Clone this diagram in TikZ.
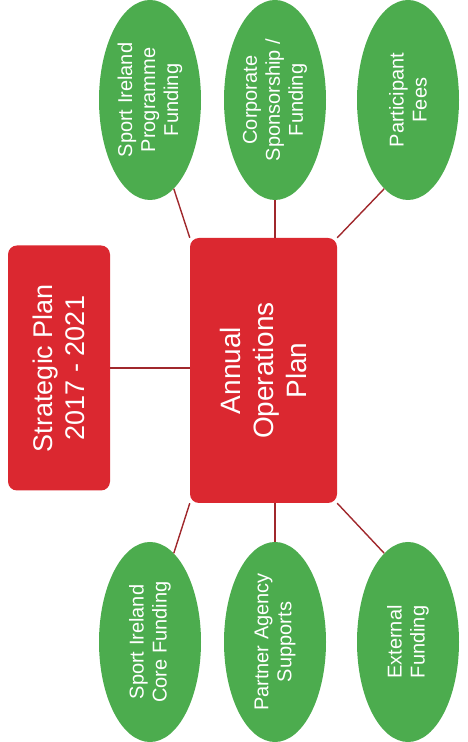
\documentclass[tikz,border=0pt]{standalone}
\usepackage{fontspec}
\setmainfont{Liberation Sans}
\usetikzlibrary{shapes.geometric}

\definecolor{boxred}{RGB}{219,40,48}
\definecolor{fundgreen}{RGB}{76,172,78}
\definecolor{linkred}{RGB}{160,40,44}

\tikzset{
  planbox/.style={rectangle, rounded corners=9pt, fill=boxred, text=white,
    align=center, rotate=90, inner sep=0pt},
  fundoval/.style={ellipse, fill=fundgreen, text=white, align=center,
    rotate=90, inner sep=0pt, minimum width=200pt, minimum height=102pt,
    font=\fontsize{20}{23}\selectfont},
  link/.style={linkred, line width=1.4pt}
}

\begin{document}
\begin{tikzpicture}[x=1pt,y=1pt]
    \useasboundingbox (0,0) rectangle (467,742);

    % plans
    \node[planbox, minimum width=245pt, minimum height=102pt,
          font=\fontsize{27}{32}\selectfont] (strat) at (59,374) {Strategic Plan\\2017 - 2021};
    \node[planbox, minimum width=265pt, minimum height=147pt,
          font=\fontsize{28}{33}\selectfont] (annual) at (263.5,371.5) {Annual\\Operations\\Plan};

    % funding sources, top row
    \node[fundoval] (progfund) at (150,642) {Sport Ireland\\Programme\\Funding};
    \node[fundoval] (corpfund) at (275,642) {Corporate\\Sponsorship /\\Funding};
    \node[fundoval] (fees) at (408,642) {Participant\\Fees};

    % funding sources, bottom row
    \node[fundoval] (corefund) at (150,100) {Sport Ireland\\Core Funding};
    \node[fundoval] (partner) at (275,100) {Partner Agency\\Supports};
    \node[fundoval] (extfund) at (408,100) {External\\Funding};

    \draw[link] (strat.south) -- (strat.south -| annual.north);

    \draw[link] (annual.north east) -- (progfund.-165);
    \draw[link] (corpfund.180 |- annual.east) -- (corpfund.180);
    \draw[link] (annual.south east) -- (fees.165);

    \draw[link] (annual.north west) -- (corefund.-15);
    \draw[link] (partner.0 |- annual.west) -- (partner.0);
    \draw[link] (annual.south west) -- (extfund.15);
\end{tikzpicture}
\end{document}
